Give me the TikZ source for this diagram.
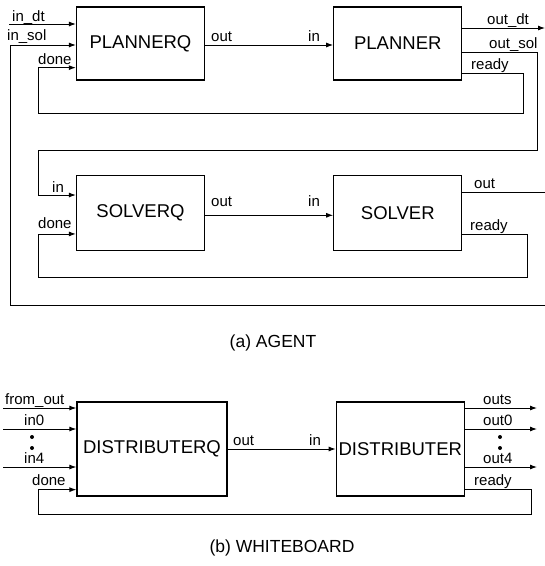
\documentclass[tikz,border=0pt]{standalone}
\usepackage{fontspec}
\setmainfont{Liberation Sans}
\usetikzlibrary{positioning,arrows.meta,calc}

\begin{document}
\begin{tikzpicture}[
  x=1pt, y=-1pt,
  font=\fontsize{15}{17}\selectfont,
  blk/.style={draw, line width=1.3pt, minimum width=128pt, minimum height=73pt, inner sep=0pt, font=\fontsize{18.5}{21}\selectfont},
  wire/.style={line width=0.9pt, draw=black},
  arr/.style={wire, -{Latex[length=7pt,width=5pt]}},
  lbl/.style={anchor=base west, inner sep=0pt},
  dot/.style={circle, fill, inner sep=0pt, minimum size=4pt},
  captxt/.style={font=\fontsize{17.5}{20}\selectfont}
]
\useasboundingbox (0,0) rectangle (545,566);

% (a) agent
\node[blk] (pq) at (140.5,43.5) {PLANNERQ};
\node[blk, right=128pt of pq] (pl) {PLANNER};
\node[blk, minimum height=75pt, below=94pt of pq] (sq) {SOLVERQ};
\node[blk, minimum height=75pt, right=128pt of sq] (sv) {SOLVER};

\coordinate (indt) at (9,24);
\coordinate (insol) at (10,45);
\coordinate (edgebot) at (545,305);
\coordinate (outdt) at (545,28);
\coordinate (outsol) at (537,52);
\coordinate (solrail) at (38,150);
\coordinate (sqin) at (38,195);
\coordinate (rdyp) at (523,73);
\coordinate (donep) at (38,113);
\coordinate (solout) at (545,192);
\coordinate (rdys) at (527,234);
\coordinate (dones) at (38,277);

\draw[arr] (indt) -- (indt -| pq.west);
\draw[arr] (edgebot) -| (insol) -- (insol -| pq.west);
\draw[arr] (pq.east |- insol) -- (pl.west |- insol);
\draw[arr] (outdt -| pl.east) -- (outdt);
\draw[arr] (outsol -| pl.east) -- (outsol) |- (solrail) -- (sqin) -- (sqin -| sq.west);
\draw[arr] (rdyp -| pl.east) -- (rdyp) |- (donep) |- ($(pq.south west)+(0,-13)$);
\draw[arr] ($(sq.east)+(0,2.5)$) -- ($(sv.west)+(0,2.5)$);
\draw[wire] (solout -| sv.east) -- (solout);
\draw[arr] (rdys -| sv.east) -- (rdys) |- (dones) |- ($(sq.south west)+(0,-17)$);

\node[lbl] (lindt) at (12,21) {in\_dt};
\node[lbl] (linsol) at (7,40) {in\_sol};
\node[lbl] (ldonep) at (38,64) {done};
\node[lbl] (loutpq) at (211,41) {out};
\node[lbl] (linpl) at (308,41) {in};
\node[lbl] (loutdt) at (487,24) {out\_dt};
\node[lbl] (loutsol) at (489,48) {out\_sol};
\node[lbl] (lrdyp) at (471,69) {ready};
\node[lbl] (linsq) at (52,192) {in};
\node[lbl] (ldones) at (38,228) {done};
\node[lbl] (loutsq) at (211,206) {out};
\node[lbl] (linsv) at (308,206) {in};
\node[lbl] (loutsv) at (474,188) {out};
\node[lbl] (lrdys) at (470,230) {ready};

\node[captxt] (capa) at (273,343) {(a) AGENT};

% (b) whiteboard
\node[blk, minimum width=150pt, minimum height=94pt] (dq) at (152,449) {DISTRIBUTERQ};
\node[blk, minimum height=94pt, right=108pt of dq] (ds) {DISTRIBUTER};

\coordinate (fromout) at (3,408);
\coordinate (inzero) at (3,429);
\coordinate (infour) at (3,467);
\coordinate (outs) at (537,408);
\coordinate (outzero) at (537,429);
\coordinate (outfour) at (537,467);
\coordinate (rdyd) at (531,489);
\coordinate (doned) at (38,514);

\draw[arr] (fromout) -- (fromout -| dq.west);
\draw[arr] (inzero) -- (inzero -| dq.west);
\draw[arr] (infour) -- (infour -| dq.west);
\draw[arr] (dq.east) -- (ds.west);
\draw[arr] (outs -| ds.east) -- (outs);
\draw[arr] (outzero -| ds.east) -- (outzero);
\draw[arr] (outfour -| ds.east) -- (outfour);
\draw[arr] (rdyd -| ds.east) -- (rdyd) |- (doned) |- ($(dq.south west)+(0,-7)$);

\node[dot] (dotl1) at (32,437) {};
\node[dot] (dotl2) at (32,448) {};
\node[dot] (dotr1) at (500,437) {};
\node[dot] (dotr2) at (500,448) {};

\node[lbl] (lfromout) at (5,404) {from\_out};
\node[lbl] (linzero) at (24,425) {in0};
\node[lbl] (linfour) at (24,463) {in4};
\node[lbl] (ldoned) at (32,485) {done};
\node[lbl] (loutdq) at (233,445) {out};
\node[lbl] (linds) at (309,445) {in};
\node[lbl] (louts) at (483,404) {outs};
\node[lbl] (loutzero) at (483,425) {out0};
\node[lbl] (loutfour) at (483,463) {out4};
\node[lbl] (lrdyd) at (474,485) {ready};

\node[captxt] (capb) at (282,548) {(b) WHITEBOARD};
\end{tikzpicture}
\end{document}
